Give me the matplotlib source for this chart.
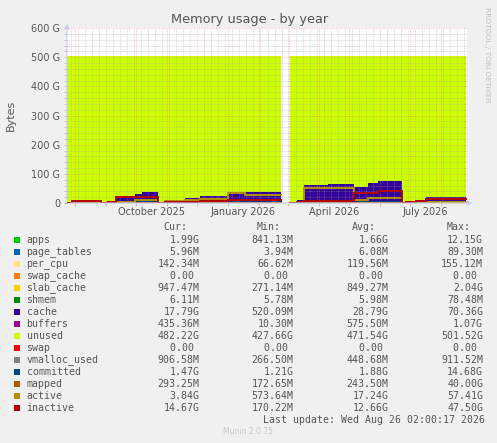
import numpy as np
import pandas as pd
import matplotlib
matplotlib.use('Agg')
import matplotlib.pyplot as plt
import matplotlib.dates as mdates
from matplotlib.patches import Rectangle
from matplotlib.transforms import blended_transform_factory

# segment edges (step data, one value per segment), values in GB
edges = pd.to_datetime([
    '2025-07-24', '2025-07-29', '2025-08-27', '2025-09-03', '2025-09-11',
    '2025-09-30', '2025-10-07', '2025-10-23', '2025-10-30', '2025-11-19',
    '2025-12-04', '2026-01-01', '2026-01-18', '2026-02-22', '2026-03-03',
    '2026-03-10', '2026-03-17', '2026-04-10', '2026-05-06', '2026-05-20',
    '2026-05-30', '2026-06-23', '2026-06-27', '2026-07-07', '2026-07-17',
    '2026-08-26'])

nan = np.nan
apps        = [1.0, 1.5, 0.9, 1.2, 2.0, 2.2, 2.4, 0.9, 1.5, 1.7, 1.8, 2.0, 2.0, nan,
               1.2, 1.6, 2.5, 2.6, 2.3, 2.5, 2.6, 1.0, 1.5, 1.8, 2.0]
page_tables = [0.004, 0.005, 0.004, 0.005, 0.006, 0.006, 0.006, 0.004, 0.005, 0.006, 0.006, 0.006, 0.006, nan,
               0.004, 0.005, 0.007, 0.007, 0.006, 0.007, 0.007, 0.004, 0.005, 0.006, 0.006]
per_cpu     = [0.07, 0.10, 0.07, 0.10, 0.12, 0.12, 0.13, 0.07, 0.11, 0.12, 0.12, 0.13, 0.13, nan,
               0.08, 0.11, 0.14, 0.15, 0.14, 0.15, 0.15, 0.07, 0.10, 0.12, 0.14]
swap_cache  = [0.0, 0.0, 0.0, 0.0, 0.0, 0.0, 0.0, 0.0, 0.0, 0.0, 0.0, 0.0, 0.0, nan,
               0.0, 0.0, 0.0, 0.0, 0.0, 0.0, 0.0, 0.0, 0.0, 0.0, 0.0]
slab_cache  = [0.4, 0.8, 0.3, 0.6, 1.0, 1.1, 1.2, 0.3, 0.8, 0.9, 0.9, 1.0, 1.0, nan,
               0.5, 0.7, 1.5, 1.6, 1.3, 1.8, 2.0, 0.3, 0.6, 0.8, 0.95]
shmem       = [0.006, 0.006, 0.006, 0.006, 0.006, 0.006, 0.006, 0.006, 0.006, 0.006, 0.006, 0.006, 0.006, nan,
               0.006, 0.006, 0.006, 0.006, 0.006, 0.006, 0.006, 0.006, 0.006, 0.006, 0.006]
cache       = [1.5, 5.0, 0.6, 4.0, 20.0, 27.5, 33.5, 0.8, 9.0, 14.0, 20.0, 33.0, 33.0, nan,
               1.5, 9.0, 57.0, 60.0, 52.0, 64.0, 69.5, 0.6, 3.5, 8.0, 17.8]
buffers     = [0.05, 0.3, 0.02, 0.2, 0.6, 0.7, 0.8, 0.02, 0.3, 0.4, 0.6, 1.0, 0.7, nan,
               0.05, 0.3, 0.9, 1.05, 0.8, 0.9, 0.9, 0.02, 0.2, 0.3, 0.44]
unused      = [500.4, 495.8, 501.5, 497.4, 479.8, 471.9, 465.5, 501.3, 491.8, 486.4, 480.1, 466.4, 466.7, nan,
               500.1, 491.8, 441.5, 438.1, 447.0, 434.2, 428.4, 501.5, 497.6, 492.5, 482.2]
swap        = [0.0, 0.0, 0.0, 0.0, 0.0, 0.0, 0.0, 0.0, 0.0, 0.0, 0.0, 0.0, 0.0, nan,
               0.0, 0.0, 0.0, 0.0, 0.0, 0.0, 0.0, 0.0, 0.0, 0.0, 0.0]

vmalloc_used = [0.3, 0.35, 0.27, 0.3, 0.4, 0.45, 0.45, 0.27, 0.4, 0.4, 0.45, 0.5, 0.5, nan,
                0.3, 0.4, 0.5, 0.5, 0.5, 0.5, 0.5, 0.27, 0.6, 0.8, 0.9]
committed    = [1.3, 1.5, 1.22, 1.4, 1.9, 2.0, 2.1, 1.22, 1.6, 1.7, 1.8, 2.0, 2.0, nan,
                1.3, 1.6, 2.2, 2.3, 2.1, 2.3, 2.4, 1.21, 1.3, 1.4, 1.47]
mapped       = [0.2, 0.25, 0.18, 0.2, 0.25, 0.3, 0.3, 0.18, 0.2, 0.25, 0.25, 0.3, 0.3, nan,
                0.2, 0.25, 0.3, 0.3, 0.3, 0.3, 0.3, 0.18, 0.2, 0.25, 0.29]
active       = [1.0, 2.0, 0.6, 1.5, 4.0, 10.0, 10.0, 0.6, 8.0, 12.0, 14.0, 33.0, 28.0, nan,
                1.0, 5.0, 51.0, 52.0, 11.0, 18.0, 18.0, 0.6, 2.0, 3.0, 3.84]
inactive     = [1.5, 5.5, 0.3, 4.0, 19.0, 20.0, 21.0, 0.2, 3.0, 4.0, 7.0, 11.0, 11.0, nan,
                1.0, 5.0, 7.0, 8.0, 33.0, 35.0, 42.0, 0.2, 3.0, 7.0, 14.67]

names = ['apps', 'page_tables', 'per_cpu', 'swap_cache', 'slab_cache', 'shmem',
         'cache', 'buffers', 'unused', 'swap',
         'vmalloc_used', 'committed', 'mapped', 'active', 'inactive']
colors = ['#00cc00', '#0066b3', '#ffe680', '#ff8000', '#ffcc00', '#008f00',
          '#330099', '#990099', '#ccff00', '#ff0000',
          '#808080', '#00487d', '#b35a00', '#b38f00', '#b30000']
stacked = [apps, page_tables, per_cpu, swap_cache, slab_cache, shmem,
           cache, buffers, unused, swap]
lines = [vmalloc_used, committed, mapped, active, inactive]

cur_vals = ['1.99G', '5.96M', '142.34M', '0.00 ', '947.47M', '6.11M', '17.79G', '435.36M',
            '482.22G', '0.00 ', '906.58M', '1.47G', '293.25M', '3.84G', '14.67G']
min_vals = ['841.13M', '3.94M', '66.62M', '0.00 ', '271.14M', '5.78M', '520.09M', '10.30M',
            '427.66G', '0.00 ', '266.50M', '1.21G', '172.65M', '573.64M', '170.22M']
avg_vals = ['1.66G', '6.08M', '119.56M', '0.00 ', '849.27M', '5.98M', '28.79G', '575.50M',
            '471.54G', '0.00 ', '448.68M', '1.88G', '243.50M', '17.24G', '12.66G']
max_vals = ['12.15G', '89.30M', '155.12M', '0.00 ', '2.04G', '78.48M', '70.36G', '1.07G',
            '501.52G', '0.00 ', '911.52M', '14.68G', '40.00G', '57.41G', '47.50G']

quarter_labels = ['October 2025', 'January 2026', 'April 2026', 'July 2026']
quarter_pos = pd.to_datetime(['2025-10-16', '2026-01-16', '2026-04-16', '2026-07-16'])

W, H = 497, 443
TXT = '#555555'


def fx(px):
    return px / W


def fy(py):
    return 1 - py / H


def step_xy(vals):
    xs = np.repeat(edges.values, 2)[1:-1]
    ys = np.repeat(np.asarray(vals, dtype=float), 2)
    return xs, ys


fig = plt.figure(figsize=(W / 100, H / 100), dpi=100, facecolor='#f0f0f0')
ax = fig.add_axes([fx(67), fy(203), fx(400), 175 / H])
ax.set_facecolor('white')

# stacked areas
base = np.zeros(2 * (len(edges) - 1))
for vals, c in zip(stacked, colors[:10]):
    xs, ys = step_xy(vals)
    top = base + ys
    ax.fill_between(xs, base, top, color=c, linewidth=0, zorder=1)
    base = top

# lines
for vals, c in zip(lines, colors[10:]):
    xs, ys = step_xy(vals)
    ax.plot(xs, ys, color=c, lw=1.4, zorder=3, solid_joinstyle='miter')

ax.set_xlim(pd.Timestamp('2025-07-24'), pd.Timestamp('2026-08-27'))
ax.set_ylim(0, 600)

# grid
ax.set_axisbelow(False)
ax.set_yticks(np.arange(0, 601, 100))
ax.set_yticks(np.arange(0, 601, 20), minor=True)
ax.set_yticklabels(['0'] + [f'{v} G' for v in range(100, 601, 100)])
ax.xaxis.set_major_locator(mdates.MonthLocator())
ax.xaxis.set_minor_locator(mdates.WeekdayLocator(byweekday=mdates.MO))
ax.xaxis.set_major_formatter(plt.NullFormatter())
ax.grid(which='minor', color='#a0a0a0', alpha=0.5, lw=0.6, ls=(0, (1, 1)))
ax.grid(which='major', color='#ff6060', alpha=0.45, lw=0.6, ls=(0, (1, 1)))
ax.tick_params(which='both', length=2, width=0.6, color='#d0b0b0', labelsize=7,
               labelcolor=TXT, pad=3)
ax.tick_params(axis='x', which='minor', length=0)
for s in ax.spines.values():
    s.set_visible(False)

trans = blended_transform_factory(ax.transData, ax.transAxes)
for lab, pos in zip(quarter_labels, quarter_pos):
    ax.text(pos, -0.05, lab, transform=trans, ha='center', va='center',
            fontsize=7, color=TXT)

# axis lines with arrows
ax.annotate('', xy=(1.02, 0), xytext=(0, 0), xycoords='axes fraction',
            arrowprops=dict(arrowstyle='-|>', color='#c8c8f0', lw=0.8,
                            mutation_scale=7), annotation_clip=False)
ax.annotate('', xy=(0, 1.04), xytext=(0, 0), xycoords='axes fraction',
            arrowprops=dict(arrowstyle='-|>', color='#c8c8f0', lw=0.8,
                            mutation_scale=7), annotation_clip=False)

fig.text(fx(250), fy(19), 'Memory usage - by year', ha='center', va='center',
         fontsize=9.3, color=TXT)
fig.text(fx(11), fy(115), 'Bytes', ha='center', va='center', rotation=90,
         fontsize=8, color=TXT)
fig.text(fx(487), fy(55), 'RRDTOOL / TOBI OETIKER', ha='center', va='center',
         rotation=270, fontsize=5.4, color='#c0c0c0')

# legend table
mono = 'DejaVu Sans Mono'
fs = 7.1
cw = 5.93
headers = ['Cur:', 'Min:', 'Avg:', 'Max:']
head_x = [163, 257, 352, 447]
col_right = [199.3, 293.3, 388.3, 482.7]
for h, x in zip(headers, head_x):
    fig.text(fx(x), fy(227), h, family=mono, fontsize=fs, color=TXT, va='center')

for i, name in enumerate(names):
    yc = 240 + 12 * i
    fig.add_artist(Rectangle((fx(14), fy(yc + 3)), 6 / W, 6 / H,
                             transform=fig.transFigure, color=colors[i], lw=0))
    fig.text(fx(26.5), fy(yc), name, family=mono, fontsize=fs, color=TXT, va='center')
    for col, r in zip([cur_vals, min_vals, avg_vals, max_vals], col_right):
        s = col[i]
        fig.text(fx(r - len(s) * cw), fy(yc), s, family=mono, fontsize=fs,
                 color=TXT, va='center')

last = 'Last update: Wed Aug 26 02:00:17 2026'
fig.text(fx(482.7 - len(last) * cw), fy(420), last, family=mono, fontsize=fs,
         color=TXT, va='center')
fig.text(fx(248), fy(432), 'Munin 2.0.75', ha='center', va='center',
         fontsize=5.5, color='#c8c8c8')

fig.savefig('out.png', dpi=100, facecolor=fig.get_facecolor())
